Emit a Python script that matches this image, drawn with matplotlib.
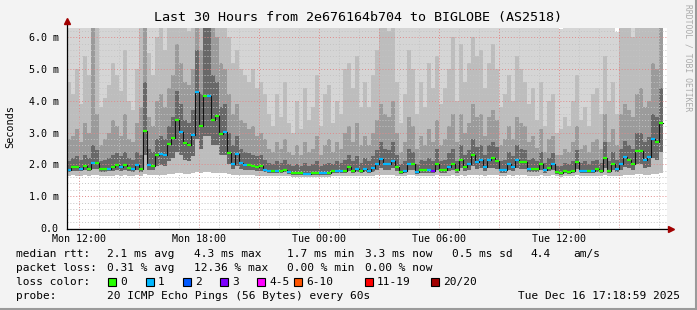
import numpy as np
import matplotlib
matplotlib.use('Agg')
import matplotlib.pyplot as plt
from matplotlib.patches import Rectangle
from matplotlib.lines import Line2D

# smokeping data, one value per 12 minute step starting Mon 11:24
rtt_median = [
    1.83, 1.91, 1.91, 1.86, 1.94, 1.87, 2.05, 2.05, 1.86, 1.86,
    1.86, 1.93, 1.98, 1.93, 1.98, 1.90, 1.86, 1.98, 1.86, 3.06,
    1.98, 1.96, 2.30, 2.34, 2.28, 2.64, 2.84, 3.41, 3.03, 2.68,
    2.61, 2.92, 4.29, 3.22, 4.16, 4.16, 3.41, 3.53, 2.96, 3.03,
    2.36, 2.01, 2.34, 2.05, 1.98, 1.97, 1.95, 1.91, 1.95, 1.83,
    1.78, 1.78, 1.78, 1.80, 1.83, 1.77, 1.72, 1.72, 1.74, 1.71,
    1.71, 1.74, 1.74, 1.74, 1.74, 1.74, 1.79, 1.80, 1.80, 1.80,
    1.91, 1.80, 1.87, 1.79, 1.86, 1.80, 1.88, 2.00, 2.17, 2.00,
    2.00, 2.12, 1.93, 1.75, 1.80, 2.00, 2.00, 1.75, 1.82, 1.82,
    1.82, 1.80, 2.02, 1.82, 1.82, 1.93, 2.02, 1.82, 2.15, 1.93,
    2.02, 2.31, 2.08, 2.15, 1.93, 2.15, 2.21, 2.12, 1.82, 1.82,
    2.00, 1.93, 2.15, 2.08, 2.06, 1.86, 1.86, 1.86, 2.02, 1.82,
    1.90, 2.02, 1.76, 1.74, 1.80, 1.77, 1.80, 2.09, 1.80, 1.80,
    1.80, 1.80, 1.86, 1.80, 2.21, 1.80, 2.00, 1.86, 2.00, 2.24,
    2.15, 2.02, 2.43, 2.43, 2.15, 2.24, 2.80, 2.70, 3.31, np.nan]

loss_count = [
    1, 0, 0, 1, 0, 0, 1, 0, 0, 0,
    1, 0, 0, 1, 0, 0, 1, 1, 0, 0,
    1, 0, 0, 1, 1, 0, 0, 0, 1, 0,
    0, 1, 1, 0, 0, 1, 0, 0, 0, 1,
    0, 1, 1, 1, 1, 0, 0, 0, 0, 1,
    1, 0, 1, 0, 0, 1, 0, 0, 0, 1,
    1, 0, 0, 1, 1, 0, 0, 1, 1, 0,
    0, 0, 1, 0, 1, 1, 1, 1, 1, 1,
    1, 1, 0, 0, 1, 1, 0, 1, 0, 0,
    1, 3, 0, 0, 0, 1, 0, 0, 0, 0,
    1, 0, 1, 1, 1, 1, 0, 0, 1, 1,
    1, 1, 1, 0, 0, 1, 0, 0, 0, 1,
    0, 1, 0, 0, 0, 0, 0, 0, 1, 1,
    0, 1, 0, 0, 0, 0, 0, 1, 1, 1,
    0, 0, 0, 0, 1, 1, 1, 0, 0, 0]

smoke_min = [
    1.64, 1.66, 1.65, 1.64, 1.66, 1.65, 1.68, 1.67, 1.64, 1.64,
    1.64, 1.65, 1.66, 1.65, 1.66, 1.65, 1.64, 1.66, 1.64, 1.70,
    1.66, 1.66, 1.68, 1.68, 1.68, 1.70, 1.70, 1.72, 1.72, 1.70,
    1.70, 1.72, 1.75, 1.74, 1.75, 1.75, 1.74, 1.74, 1.72, 1.72,
    1.70, 1.68, 1.68, 1.67, 1.66, 1.66, 1.66, 1.65, 1.65, 1.63,
    1.62, 1.62, 1.62, 1.63, 1.63, 1.62, 1.60, 1.60, 1.61, 1.60,
    1.60, 1.61, 1.61, 1.61, 1.61, 1.61, 1.62, 1.63, 1.63, 1.63,
    1.64, 1.63, 1.64, 1.63, 1.64, 1.63, 1.64, 1.66, 1.68, 1.66,
    1.66, 1.67, 1.65, 1.62, 1.63, 1.66, 1.66, 1.62, 1.63, 1.63,
    1.63, 1.63, 1.66, 1.63, 1.63, 1.65, 1.66, 1.63, 1.67, 1.65,
    1.66, 1.68, 1.66, 1.67, 1.65, 1.67, 1.67, 1.67, 1.63, 1.63,
    1.66, 1.65, 1.67, 1.66, 1.66, 1.64, 1.64, 1.64, 1.66, 1.63,
    1.64, 1.66, 1.62, 1.61, 1.62, 1.62, 1.62, 1.66, 1.62, 1.62,
    1.62, 1.62, 1.63, 1.62, 1.67, 1.62, 1.65, 1.63, 1.65, 1.67,
    1.67, 1.66, 1.69, 1.69, 1.67, 1.68, 1.70, 1.70, 1.72, np.nan]

smoke_q1 = [
    1.76, 1.80, 1.79, 1.78, 1.82, 1.78, 1.86, 1.85, 1.77, 1.77,
    1.78, 1.80, 1.83, 1.80, 1.82, 1.79, 1.77, 1.82, 1.77, 2.30,
    1.82, 1.82, 1.95, 1.98, 1.95, 2.10, 2.20, 2.40, 2.30, 2.15,
    2.10, 2.25, 2.80, 2.50, 2.90, 2.90, 2.60, 2.60, 2.30, 2.30,
    2.00, 1.85, 1.95, 1.86, 1.83, 1.82, 1.81, 1.79, 1.80, 1.75,
    1.72, 1.72, 1.72, 1.73, 1.75, 1.71, 1.67, 1.67, 1.68, 1.66,
    1.66, 1.68, 1.68, 1.68, 1.68, 1.68, 1.72, 1.73, 1.73, 1.73,
    1.78, 1.73, 1.77, 1.72, 1.76, 1.73, 1.77, 1.82, 1.90, 1.82,
    1.82, 1.88, 1.80, 1.70, 1.73, 1.82, 1.82, 1.70, 1.74, 1.74,
    1.74, 1.73, 1.83, 1.74, 1.74, 1.80, 1.83, 1.74, 1.88, 1.80,
    1.83, 1.95, 1.85, 1.88, 1.80, 1.88, 1.90, 1.87, 1.74, 1.74,
    1.82, 1.80, 1.88, 1.85, 1.84, 1.76, 1.76, 1.76, 1.83, 1.74,
    1.78, 1.83, 1.70, 1.68, 1.72, 1.71, 1.72, 1.85, 1.72, 1.72,
    1.72, 1.72, 1.75, 1.72, 1.90, 1.72, 1.82, 1.75, 1.82, 1.92,
    1.88, 1.83, 2.00, 2.00, 1.88, 1.92, 2.20, 2.15, 2.40, np.nan]

smoke_q3 = [
    2.10, 2.20, 2.25, 2.15, 2.30, 2.20, 2.60, 2.45, 2.10, 2.15,
    2.20, 2.30, 2.35, 2.25, 2.40, 2.20, 2.15, 2.40, 2.30, 4.60,
    2.50, 2.40, 2.80, 2.90, 2.80, 3.20, 3.50, 4.30, 3.90, 3.40,
    3.30, 3.70, 5.60, 4.20, 6.50, 6.50, 4.80, 4.60, 3.80, 3.90,
    3.00, 2.60, 2.90, 2.50, 2.40, 2.35, 2.30, 2.25, 2.30, 2.15,
    2.05, 2.00, 2.10, 2.05, 2.15, 2.00, 1.95, 2.00, 1.95, 2.05,
    1.95, 2.00, 2.10, 1.95, 2.00, 2.05, 2.00, 2.10, 2.05, 2.15,
    2.30, 2.10, 2.25, 2.05, 2.20, 2.10, 2.25, 2.45, 2.70, 2.50,
    2.45, 2.70, 2.30, 2.00, 2.10, 2.50, 2.40, 2.00, 2.15, 2.10,
    2.20, 2.10, 2.50, 2.10, 2.15, 2.35, 2.50, 2.10, 2.60, 2.30,
    2.45, 2.80, 2.55, 2.60, 2.30, 2.60, 2.70, 2.55, 2.10, 2.15,
    2.40, 2.25, 2.60, 2.50, 2.45, 2.15, 2.20, 2.10, 2.40, 2.05,
    2.20, 2.35, 1.95, 1.95, 2.05, 2.00, 2.10, 2.45, 2.05, 2.10,
    2.00, 2.10, 2.15, 2.05, 2.70, 2.10, 2.40, 2.15, 2.50, 2.75,
    2.60, 2.50, 3.00, 3.00, 2.70, 2.85, 3.60, 3.50, 4.40, np.nan]

smoke_p60 = [
    2.80, 2.90, 3.10, 2.70, 3.30, 3.00, 6.50, 3.60, 2.60, 2.80,
    3.00, 3.40, 3.20, 2.90, 3.60, 2.80, 2.70, 3.30, 3.80, 6.50,
    3.50, 3.20, 4.00, 4.20, 3.80, 4.40, 4.80, 5.80, 5.20, 4.60,
    4.50, 5.00, 6.50, 5.60, 6.50, 6.50, 6.50, 6.00, 5.20, 5.00,
    4.20, 3.60, 3.90, 3.40, 3.30, 3.10, 3.20, 2.90, 3.00, 2.80,
    2.50, 2.40, 2.70, 2.50, 2.80, 2.40, 2.30, 2.60, 2.30, 2.70,
    2.40, 2.50, 2.90, 2.30, 2.60, 2.80, 2.40, 2.70, 2.50, 3.00,
    3.20, 2.70, 3.30, 2.60, 2.90, 2.60, 3.00, 3.40, 3.90, 3.60,
    3.50, 4.00, 3.00, 2.40, 2.70, 3.50, 3.20, 2.50, 2.90, 2.60,
    3.10, 2.70, 3.40, 2.60, 2.80, 3.20, 3.60, 2.70, 3.60, 3.00,
    3.30, 3.90, 3.50, 3.60, 2.90, 3.50, 3.70, 3.40, 2.60, 2.80,
    3.20, 2.80, 3.50, 3.30, 3.20, 2.70, 2.90, 2.50, 3.10, 2.40,
    2.80, 2.90, 2.30, 2.30, 2.50, 2.40, 2.70, 3.20, 2.50, 2.60,
    2.40, 2.70, 2.80, 2.50, 3.60, 2.70, 3.10, 2.60, 3.60, 3.90,
    3.70, 3.50, 4.20, 4.40, 3.80, 4.00, 5.20, 5.00, 6.50, np.nan]

smoke_p80 = [
    4.60, 4.20, 5.00, 3.90, 5.40, 4.80, 6.50, 6.50, 3.80, 4.10,
    4.50, 5.20, 4.80, 4.30, 5.60, 4.00, 3.70, 5.00, 6.50, 6.50,
    5.50, 4.80, 6.00, 6.50, 5.60, 6.50, 6.50, 6.50, 6.50, 6.50,
    6.20, 6.50, 6.50, 6.50, 6.50, 6.50, 6.50, 6.50, 6.50, 6.50,
    6.00, 5.20, 5.60, 5.00, 4.80, 4.60, 5.00, 4.40, 4.60, 4.20,
    3.60, 3.20, 4.20, 3.50, 4.60, 3.30, 3.00, 4.00, 3.10, 4.40,
    3.40, 3.80, 4.80, 3.20, 4.20, 4.50, 3.30, 4.00, 3.60, 5.00,
    5.20, 4.40, 5.40, 3.80, 4.60, 3.80, 4.80, 5.60, 6.50, 6.50,
    6.20, 6.50, 4.60, 3.30, 4.20, 5.60, 5.00, 3.60, 4.60, 3.80,
    5.20, 4.40, 5.40, 3.90, 4.40, 5.00, 6.00, 4.00, 5.80, 4.60,
    5.20, 6.00, 5.40, 5.60, 4.40, 5.20, 5.80, 5.00, 3.80, 4.20,
    4.80, 4.00, 5.40, 5.00, 4.60, 3.90, 4.40, 3.40, 4.60, 3.20,
    4.00, 4.20, 3.00, 3.10, 3.50, 3.20, 4.00, 4.80, 3.40, 3.80,
    3.20, 4.20, 4.40, 3.60, 5.40, 4.00, 4.60, 3.60, 6.50, 6.50,
    6.50, 6.00, 6.50, 6.50, 6.50, 6.50, 6.50, 6.50, 6.50, np.nan]

smoke_max = [
    6.5, 6.5, 6.5, 6.5, 6.5, 6.5, 6.5, 6.5, 6.5, 6.5,
    6.5, 6.5, 6.5, 6.5, 6.5, 6.5, 6.5, 6.5, 6.5, 6.5,
    6.5, 6.5, 6.5, 6.5, 6.5, 6.5, 6.5, 6.5, 6.5, 6.5,
    6.5, 6.5, 6.5, 6.5, 6.5, 6.5, 6.5, 6.5, 6.5, 6.5,
    6.5, 6.5, 6.5, 6.5, 6.5, 6.5, 6.5, 6.5, 6.5, 6.5,
    6.5, 6.5, 6.5, 6.5, 6.5, 6.5, 6.5, 6.5, 6.5, 6.5,
    6.5, 6.5, 6.5, 6.5, 6.5, 6.5, 6.5, 6.5, 6.5, 6.5,
    6.5, 6.5, 6.5, 6.5, 6.5, 6.5, 6.5, 6.5, 6.5, 6.5,
    6.5, 6.5, 6.5, 6.5, 6.5, 6.5, 6.5, 6.5, 6.5, 6.5,
    6.5, 6.5, 6.5, 6.5, 6.5, 6.5, 6.5, 6.5, 6.5, 6.5,
    6.5, 6.5, 6.5, 6.5, 6.5, 6.5, 6.5, 6.5, 6.5, 6.5,
    6.5, 6.5, 6.5, 6.5, 6.5, 6.5, 6.5, 6.5, 6.5, 6.5,
    6.5, 6.5, 6.5, 6.25, 6.5, 6.5, 6.5, 6.5, 6.5, 6.5,
    6.5, 6.5, 6.5, 6.5, 6.5, 6.5, 6.5, 6.15, 6.5, 6.5,
    6.5, 6.5, 6.5, 6.5, 6.5, 6.5, 6.5, 6.5, 6.5, np.nan]

time_ticks = [720, 1080, 1440, 1800, 2160]   # minutes since Mon 00:00
time_labels = ['Mon 12:00', 'Mon 18:00', 'Tue 00:00', 'Tue 06:00', 'Tue 12:00']
y_ticks = [0, 1, 2, 3, 4, 5, 6]
y_labels = ['0.0', '1.0 m', '2.0 m', '3.0 m', '4.0 m', '5.0 m', '6.0 m']

loss_names = ['0', '1', '2', '3', '4-5', '6-10', '11-19', '20/20']
loss_colors = ['#26ff00', '#00b8ff', '#0059ff', '#7e00ff', '#ff00ff', '#ff5500', '#ff0000', '#a10000']

title = 'Last 30 Hours from 2e676164b704 to BIGLOBE (AS2518)'
rtt_stats = ['2.1 ms avg', '4.3 ms max', '1.7 ms min', '3.3 ms now', '0.5 ms sd', '4.4', 'am/s']
loss_stats = ['0.31 % avg', '12.36 % max', '0.00 % min', '0.00 % now']
probe_text = '20 ICMP Echo Pings (56 Bytes) every 60s'
stamp_text = 'Tue Dec 16 17:18:59 2025'

W, H = 697, 310
MONO = 'DejaVu Sans Mono'
BG = '#f3f3f3'


def fx(x):
    return x / W


def fy(y):
    return 1 - y / H


def loss_index(n):
    if n <= 3:
        return n
    if n <= 5:
        return 4
    if n <= 10:
        return 5
    if n <= 19:
        return 6
    return 7


fig = plt.figure(figsize=(W / 100, H / 100), dpi=100, facecolor=BG)
ax = fig.add_axes([fx(67), fy(228), 600 / W, 200 / H])
ax.set_facecolor('white')

t0, step = 684, 12
xs = t0 + step * np.arange(len(rtt_median))
med = np.array(rtt_median)
ok = ~np.isnan(med)

# smoke, outer band first
bands = [(smoke_min, smoke_max, '#d5d5d5'),
         (smoke_min, smoke_p80, '#bdbdbd'),
         (smoke_q1, smoke_p60, '#9b9b9b'),
         (smoke_q1, smoke_q3, '#686868')]
for lo, hi, col in bands:
    lo = np.array(lo)
    hi = np.array(hi)
    ax.bar(xs[ok], (hi - lo)[ok], bottom=lo[ok], width=step, align='edge',
           color=col, linewidth=0, antialiased=False, zorder=1)

ymax = 200 / 31.8
ax.set_xlim(t0, t0 + 1800)
ax.set_ylim(0, ymax)

# grid on top of the smoke
for t in range(720, t0 + 1800, 60):
    major = (t - 720) % 180 == 0
    ax.axvline(t, color='#e08a8a' if major else '#c4c4c4', lw=0.7,
               ls=(0, (1, 2)), zorder=2)
for v in np.arange(0.2, ymax, 0.2):
    major = abs(v - round(v)) < 0.01
    ax.axhline(v, color='#e08a8a' if major else '#c4c4c4', lw=0.7,
               ls=(0, (1, 2)), zorder=2)

# median line, coloured by loss
ax.step(np.r_[xs[ok], xs[ok][-1] + step], np.r_[med[ok], med[ok][-1]],
        where='post', color='#111111', lw=0.8, zorder=3)
cols = [loss_colors[loss_index(n)] for n in loss_count]
ax.hlines(med[ok], xs[ok], xs[ok] + step, colors=np.array(cols)[ok],
          lw=1.6, zorder=4)

for s in ax.spines.values():
    s.set_visible(False)
ax.set_xticks(time_ticks)
ax.set_xticklabels(time_labels, family=MONO, fontsize=7.2)
ax.set_yticks(y_ticks)
ax.set_yticklabels(y_labels, family=MONO, fontsize=7.2)
ax.tick_params(axis='x', length=0, pad=4)
ax.tick_params(axis='y', length=0, pad=6)

# axes with arrows
fig.add_artist(Line2D([fx(67), fx(67)], [fy(228.5), fy(22)], color='black', lw=0.9))
fig.add_artist(Line2D([fx(66.5), fx(669)], [fy(228.5), fy(228.5)], color='black', lw=0.9))
fig.add_artist(Line2D([fx(67)], [fy(21)], marker='^', ms=4.5, color='#a10000', ls=''))
fig.add_artist(Line2D([fx(671)], [fy(228.5)], marker='>', ms=4.5, color='#a10000', ls=''))

fig.text(fx(358), fy(18), title, ha='center', va='center', family=MONO, fontsize=9.6)
fig.text(fx(10), fy(127), 'Seconds', rotation=90, ha='center', va='center',
         family=MONO, fontsize=7.4)
fig.text(fx(688), fy(58), 'RRDTOOL / TOBI OETIKER', rotation=270, ha='center',
         va='center', family=MONO, fontsize=5.8, color='#aaaaaa')

# legend block
fs = 8
fig.text(fx(16), fy(254), 'median rtt:', va='center', family=MONO, fontsize=fs)
for txt, x in zip(rtt_stats, [107, 194, 287, 365, 452, 530, 573]):
    fig.text(fx(x), fy(254), txt, va='center', family=MONO, fontsize=fs)
fig.text(fx(16), fy(268), 'packet loss:', va='center', family=MONO, fontsize=fs)
for txt, x in zip(loss_stats, [107, 194, 287, 365]):
    fig.text(fx(x), fy(268), txt, va='center', family=MONO, fontsize=fs)
fig.text(fx(16), fy(282), 'loss color:', va='center', family=MONO, fontsize=fs)
for name, col, x in zip(loss_names, loss_colors, [108, 146, 183, 220, 257, 294, 365, 431]):
    fig.add_artist(Rectangle((fx(x), fy(286)), 8 / W, 8 / H, transform=fig.transFigure,
                             facecolor=col, edgecolor='black', lw=0.8))
    fig.text(fx(x + 12), fy(282), name, va='center', family=MONO, fontsize=fs)
fig.text(fx(16), fy(296), 'probe:', va='center', family=MONO, fontsize=fs)
fig.text(fx(107), fy(296), probe_text, va='center', family=MONO, fontsize=fs)
fig.text(fx(680), fy(296), stamp_text, ha='right', va='center', family=MONO, fontsize=fs)

# frame shadow
fig.add_artist(Line2D([fx(0), fx(697)], [fy(309), fy(309)], color='#9a9a9a', lw=1.5))
fig.add_artist(Line2D([fx(696), fx(696)], [fy(0), fy(310)], color='#9a9a9a', lw=1.5))

fig.savefig('out.png', dpi=100, facecolor=BG)
